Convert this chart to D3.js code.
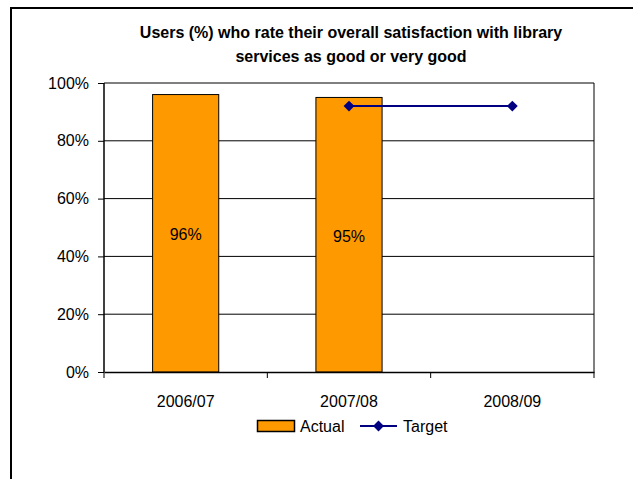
<!DOCTYPE html>
<meta charset="utf-8">
<head>
    <style>
        body { margin: 0; background: #fff; }
        text { font-family: "Liberation Sans", Arial, sans-serif; fill: #000; }
        .title { font-weight: bold; font-size: 16px; }
        .tick text { font-size: 16px; }
    </style>
</head>

<script src="https://d3js.org/d3.v7.min.js"></script>

<div id="my_dataviz"></div>

<script>

    // the data
    var categories = ["2006/07", "2007/08", "2008/09"];
    var actualValues = [96, 95, null];
    var targetValues = [null, 92, 92];
    var yTicks = [0, 20, 40, 60, 80, 100];
    var titleLines = ["Users (%) who rate their overall satisfaction with library",
                      "services as good or very good"];

    var W = 633, H = 479;
    var margin = {top: 83, right: 39, bottom: 107, left: 104},
        width = W - margin.left - margin.right,
        height = H - margin.top - margin.bottom;

    var root = d3.select("#my_dataviz")
      .append("svg")
        .attr("width", W)
        .attr("height", H);

    // outer frame (top and left only)
    root.append("line")
        .attr("x1", 11).attr("x2", W).attr("y1", 8).attr("y2", 8)
        .attr("stroke", "#000").attr("stroke-width", 2);
    root.append("line")
        .attr("x1", 11).attr("x2", 11).attr("y1", 7).attr("y2", H)
        .attr("stroke", "#000").attr("stroke-width", 2);

    // title
    root.append("text")
        .attr("class", "title")
        .attr("text-anchor", "middle")
        .selectAll("tspan")
        .data(titleLines)
        .enter().append("tspan")
          .attr("x", 351)
          .attr("y", function(d, i) { return 38 + i * 24; })
          .text(function(d) { return d; });

    var svg = root.append("g")
        .attr("transform", "translate(" + margin.left + "," + margin.top + ")");

    var x = d3.scaleBand()
      .domain(categories)
      .range([0, width])
      .padding(0);

    var y = d3.scaleLinear()
      .domain([0, 100])
      .range([height, 0]);

    // gridlines
    svg.append("g")
      .selectAll("line")
      .data(yTicks.filter(function(d) { return d > 0; }))
      .enter().append("line")
        .attr("x1", 0).attr("x2", width)
        .attr("y1", function(d) { return y(d); })
        .attr("y2", function(d) { return y(d); })
        .attr("stroke", "#000").attr("stroke-width", 1);

    // right side of plot area
    svg.append("line")
        .attr("x1", width).attr("x2", width)
        .attr("y1", 0).attr("y2", height)
        .attr("stroke", "#000").attr("stroke-width", 1);

    // bars
    var barW = x.bandwidth() * 0.405;
    var barData = categories.map(function(c, i) { return {group: c, value: actualValues[i]}; })
                            .filter(function(d) { return d.value != null; });
    svg.selectAll("rect.bar")
      .data(barData)
      .enter().append("rect")
        .attr("class", "bar")
        .attr("x", function(d) { return x(d.group) + x.bandwidth() / 2 - barW / 2; })
        .attr("y", function(d) { return y(d.value); })
        .attr("width", barW)
        .attr("height", function(d) { return height - y(d.value); })
        .attr("fill", "#FF9900")
        .attr("stroke", "#000")
        .attr("stroke-width", 1);

    // bar labels
    svg.selectAll("text.lbl")
      .data(barData)
      .enter().append("text")
        .attr("class", "lbl")
        .attr("text-anchor", "middle")
        .style("font-size", "16px")
        .attr("x", function(d) { return x(d.group) + x.bandwidth() / 2; })
        .attr("y", function(d) { return (y(d.value) + height) / 2 + 7; })
        .text(function(d) { return d.value + "%"; });

    // axes
    var yAxis = svg.append("g")
      .call(d3.axisLeft(y).tickValues(yTicks).tickSize(6).tickPadding(9)
              .tickFormat(function(d) { return d + "%"; }));
    var xAxis = svg.append("g")
      .attr("transform", "translate(0," + height + ")")
      .call(d3.axisBottom(x).tickSize(0).tickPadding(24));
    // category separators below the axis
    svg.append("g")
      .selectAll("line")
      .data(categories)
      .enter().append("line")
        .attr("x1", function(d) { return x(d) + x.bandwidth(); })
        .attr("x2", function(d) { return x(d) + x.bandwidth(); })
        .attr("y1", height).attr("y2", height + 6)
        .attr("stroke", "#000");
    svg.append("line")
        .attr("x1", 0).attr("x2", 0).attr("y1", height).attr("y2", height + 6)
        .attr("stroke", "#000");

    svg.selectAll(".domain").attr("stroke", "#000").attr("stroke-width", 1.5);
    svg.selectAll(".tick line").attr("stroke", "#000");
    xAxis.selectAll("text").style("font-size", "16px");
    yAxis.selectAll(".domain").attr("d", "M0," + height + "V0");

    // target line
    var targetPts = categories.map(function(c, i) { return {group: c, value: targetValues[i]}; })
                              .filter(function(d) { return d.value != null; });
    var line = d3.line()
      .x(function(d) { return x(d.group) + x.bandwidth() / 2; })
      .y(function(d) { return y(d.value); });
    svg.append("path")
      .datum(targetPts)
      .attr("fill", "none")
      .attr("stroke", "#000080")
      .attr("stroke-width", 2)
      .attr("d", line);
    var diamond = d3.symbol().type(d3.symbolDiamond2).size(75);
    svg.selectAll("path.pt")
      .data(targetPts)
      .enter().append("path")
        .attr("class", "pt")
        .attr("d", diamond)
        .attr("fill", "#000080")
        .attr("transform", function(d) {
          return "translate(" + (x(d.group) + x.bandwidth() / 2) + "," + y(d.value) + ")";
        });

    // legend
    var legend = root.append("g");
    legend.append("rect")
        .attr("x", 257.5).attr("y", 420.5).attr("width", 37).attr("height", 11)
        .attr("fill", "#FF9900").attr("stroke", "#000").attr("stroke-width", 1.5);
    legend.append("text")
        .attr("x", 300).attr("y", 432).style("font-size", "16px").text("Actual");
    legend.append("line")
        .attr("x1", 360).attr("x2", 397).attr("y1", 426).attr("y2", 426)
        .attr("stroke", "#000080").attr("stroke-width", 2);
    legend.append("path")
        .attr("d", diamond)
        .attr("fill", "#000080")
        .attr("transform", "translate(378.5,426)");
    legend.append("text")
        .attr("x", 403).attr("y", 432).style("font-size", "16px").text("Target");

</script>
